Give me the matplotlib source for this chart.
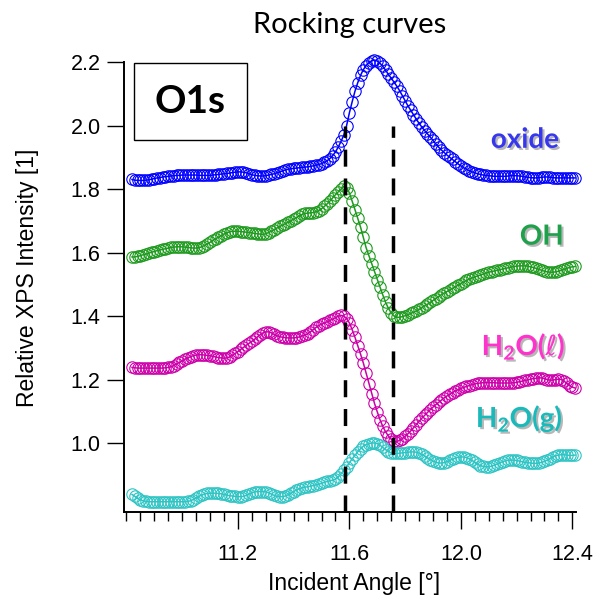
import numpy as np
import matplotlib
matplotlib.use("Agg")
import matplotlib.pyplot as plt
from matplotlib.patches import Rectangle
from matplotlib.ticker import MultipleLocator
import matplotlib.patheffects as pe

# Scan grid: incident angle in degrees, 0.01 deg steps
angle_start = 10.82
angle_step = 0.01

oxide = [
    1.830, 1.828, 1.827, 1.827, 1.827, 1.828, 1.829, 1.831, 1.833, 1.835,
    1.836, 1.838, 1.839, 1.840, 1.841, 1.842, 1.843, 1.843, 1.844, 1.844,
    1.844, 1.844, 1.844, 1.844, 1.843, 1.843, 1.843, 1.843, 1.843, 1.844,
    1.845, 1.846, 1.847, 1.848, 1.849, 1.850, 1.852, 1.853, 1.854, 1.854,
    1.853, 1.851, 1.848, 1.845, 1.843, 1.842, 1.841, 1.841, 1.842, 1.844,
    1.846, 1.848, 1.851, 1.854, 1.857, 1.860, 1.862, 1.864, 1.865, 1.866,
    1.867, 1.868, 1.869, 1.870, 1.871, 1.873, 1.875, 1.877, 1.880, 1.884,
    1.889, 1.896, 1.905, 1.917, 1.932, 1.950, 1.970, 2.000, 2.040, 2.075,
    2.108, 2.135, 2.158, 2.176, 2.189, 2.198, 2.204, 2.206, 2.203, 2.196,
    2.186, 2.174, 2.161, 2.149, 2.137, 2.124, 2.110, 2.094, 2.078, 2.062,
    2.048, 2.034, 2.020, 2.007, 1.995, 1.984, 1.974, 1.964, 1.953, 1.942,
    1.932, 1.923, 1.915, 1.907, 1.900, 1.893, 1.886, 1.879, 1.873, 1.867,
    1.862, 1.858, 1.854, 1.851, 1.848, 1.846, 1.844, 1.843, 1.842, 1.841,
    1.840, 1.840, 1.840, 1.840, 1.840, 1.841, 1.842, 1.842, 1.842, 1.841,
    1.840, 1.838, 1.837, 1.836, 1.835, 1.835, 1.836, 1.837, 1.838, 1.838,
    1.837, 1.836, 1.835, 1.835, 1.835, 1.835, 1.835, 1.835, 1.835, 1.835,
]

hydroxyl = [
    1.586, 1.586, 1.588, 1.590, 1.593, 1.595, 1.598, 1.601, 1.603, 1.606,
    1.608, 1.610, 1.612, 1.614, 1.616, 1.617, 1.618, 1.618, 1.618, 1.617,
    1.616, 1.615, 1.614, 1.614, 1.615, 1.618, 1.622, 1.627, 1.632, 1.638,
    1.643, 1.648, 1.653, 1.658, 1.662, 1.665, 1.667, 1.667, 1.667, 1.666,
    1.665, 1.664, 1.663, 1.662, 1.660, 1.659, 1.658, 1.657, 1.659, 1.663,
    1.667, 1.672, 1.677, 1.682, 1.686, 1.691, 1.695, 1.700, 1.705, 1.710,
    1.715, 1.720, 1.723, 1.724, 1.725, 1.726, 1.728, 1.732, 1.738, 1.745,
    1.753, 1.762, 1.772, 1.782, 1.791, 1.800, 1.808, 1.804, 1.788, 1.762,
    1.735, 1.708, 1.680, 1.648, 1.615, 1.590, 1.565, 1.540, 1.514, 1.490,
    1.466, 1.443, 1.424, 1.410, 1.400, 1.396, 1.396, 1.398, 1.401, 1.404,
    1.408, 1.412, 1.416, 1.421, 1.426, 1.432, 1.437, 1.443, 1.449, 1.455,
    1.461, 1.467, 1.472, 1.477, 1.482, 1.487, 1.492, 1.497, 1.502, 1.507,
    1.512, 1.516, 1.520, 1.523, 1.526, 1.529, 1.532, 1.535, 1.538, 1.540,
    1.542, 1.544, 1.546, 1.548, 1.550, 1.552, 1.554, 1.556, 1.557, 1.558,
    1.558, 1.558, 1.557, 1.555, 1.553, 1.550, 1.547, 1.544, 1.541, 1.539,
    1.538, 1.538, 1.539, 1.541, 1.544, 1.547, 1.550, 1.553, 1.555, 1.556,
]

water_liquid = [
    1.238, 1.237, 1.236, 1.236, 1.236, 1.236, 1.236, 1.236, 1.236, 1.236,
    1.236, 1.236, 1.237, 1.238, 1.240, 1.244, 1.249, 1.254, 1.259, 1.264,
    1.268, 1.272, 1.275, 1.277, 1.278, 1.278, 1.277, 1.276, 1.275, 1.273,
    1.271, 1.269, 1.268, 1.267, 1.268, 1.271, 1.276, 1.282, 1.288, 1.295,
    1.301, 1.308, 1.314, 1.320, 1.327, 1.334, 1.341, 1.347, 1.350, 1.350,
    1.347, 1.342, 1.338, 1.335, 1.333, 1.332, 1.331, 1.331, 1.331, 1.332,
    1.334, 1.337, 1.340, 1.344, 1.350, 1.357, 1.364, 1.370, 1.374, 1.378,
    1.382, 1.386, 1.390, 1.395, 1.399, 1.402, 1.400, 1.392, 1.378, 1.357,
    1.333, 1.307, 1.280, 1.252, 1.220, 1.187, 1.155, 1.125, 1.098, 1.073,
    1.052, 1.035, 1.022, 1.012, 1.006, 1.005, 1.008, 1.014, 1.021, 1.029,
    1.038, 1.048, 1.058, 1.068, 1.078, 1.087, 1.096, 1.105, 1.113, 1.121,
    1.128, 1.135, 1.142, 1.148, 1.154, 1.159, 1.164, 1.168, 1.172, 1.175,
    1.178, 1.181, 1.184, 1.186, 1.188, 1.189, 1.190, 1.190, 1.190, 1.190,
    1.190, 1.189, 1.189, 1.189, 1.189, 1.189, 1.189, 1.190, 1.191, 1.193,
    1.195, 1.197, 1.199, 1.201, 1.203, 1.204, 1.205, 1.205, 1.203, 1.200,
    1.198, 1.198, 1.200, 1.201, 1.200, 1.195, 1.188, 1.181, 1.176, 1.173,
]

water_gas = [
    0.838, 0.832, 0.826, 0.821, 0.818, 0.816, 0.815, 0.815, 0.815, 0.815,
    0.815, 0.815, 0.815, 0.815, 0.815, 0.815, 0.815, 0.815, 0.815, 0.815,
    0.816, 0.818, 0.822, 0.827, 0.832, 0.836, 0.839, 0.841, 0.842, 0.842,
    0.842, 0.841, 0.840, 0.838, 0.836, 0.834, 0.833, 0.832, 0.831, 0.831,
    0.832, 0.835, 0.839, 0.843, 0.846, 0.847, 0.847, 0.847, 0.846, 0.843,
    0.839, 0.835, 0.832, 0.831, 0.831, 0.833, 0.837, 0.842, 0.847, 0.852,
    0.856, 0.859, 0.861, 0.862, 0.864, 0.866, 0.868, 0.870, 0.873, 0.876,
    0.879, 0.881, 0.883, 0.886, 0.893, 0.903, 0.914, 0.925, 0.938, 0.950,
    0.961, 0.972, 0.982, 0.990, 0.995, 0.998, 1.000, 1.000, 0.998, 0.993,
    0.986, 0.979, 0.973, 0.969, 0.967, 0.967, 0.968, 0.969, 0.970, 0.971,
    0.972, 0.972, 0.971, 0.968, 0.964, 0.959, 0.953, 0.948, 0.943, 0.939,
    0.937, 0.937, 0.938, 0.941, 0.945, 0.949, 0.952, 0.955, 0.956, 0.956,
    0.954, 0.950, 0.945, 0.939, 0.933, 0.929, 0.926, 0.925, 0.925, 0.927,
    0.930, 0.934, 0.938, 0.941, 0.944, 0.946, 0.946, 0.946, 0.945, 0.943,
    0.941, 0.939, 0.938, 0.937, 0.936, 0.936, 0.937, 0.939, 0.942, 0.946,
    0.951, 0.956, 0.960, 0.962, 0.963, 0.963, 0.962, 0.961, 0.961, 0.962,
]

series_names = ["oxide", "OH", "H$_\\mathregular{2}$O($\\ell$)", "H$_\\mathregular{2}$O(g)"]
series_values = [oxide, hydroxyl, water_liquid, water_gas]
curve_colors = ["#0000FF", "#1E9A1E", "#CC00AA", "#2EC4C4"]
label_colors = ["#3737EE", "#1FA04A", "#FF33CC", "#1ABABA"]
label_positions = [(12.23, 1.955), (12.29, 1.650), (12.225, 1.305), (12.21, 1.078)]

marker_angles = [11.584, 11.757]
x_ticks = [11.2, 11.6, 12.0, 12.4]
y_ticks = [1.0, 1.2, 1.4, 1.6, 1.8, 2.0, 2.2]

fig = plt.figure(figsize=(5.97, 5.97), dpi=100)
ax = fig.add_axes([0.2085, 0.1424, 0.7563, 0.7537])

for vals, col in zip(series_values, curve_colors):
    vals = np.asarray(vals)
    ang = angle_start + angle_step * np.arange(len(vals))
    ax.plot(ang, vals, color=col, lw=1.1, marker="o", ms=8.2,
            mfc="none", mec=col, mew=0.8, clip_on=False, zorder=3)

for a in marker_angles:
    ax.plot([a, a], [0.7827, 2.0], color="black", lw=2.5,
            linestyle=(0, (4.9, 3.4)), solid_capstyle="butt",
            dash_capstyle="butt", clip_on=False, zorder=4)

for name, col, (lx, ly) in zip(series_names, label_colors, label_positions):
    ax.text(lx, ly, name, color=col, fontsize=20, fontweight="bold",
            family=["Lato", "DejaVu Sans"], ha="center", va="center",
            path_effects=[pe.withSimplePatchShadow(offset=(1.5, -1.5),
                                                   shadow_rgbFace="#888888",
                                                   alpha=0.6)],
            zorder=5)

# O1s core-level tag
ax.add_patch(Rectangle((0.021, 0.8267), 0.2497, 0.1713, transform=ax.transAxes,
                       fill=False, edgecolor="black", lw=1.0, clip_on=False))
ax.text(0.146, 0.912, "O1s", transform=ax.transAxes, fontsize=28,
        fontweight="bold", family="Lato", ha="center", va="center")

ax.set_xlim(10.793, 12.413)
ax.set_ylim(0.7827, 2.2)

for side in ("top", "right"):
    ax.spines[side].set_visible(False)
for side in ("left", "bottom"):
    ax.spines[side].set_linewidth(1.4)

ax.set_xticks(x_ticks)
ax.set_xticklabels([f"{t:.1f}" for t in x_ticks])
ax.xaxis.set_minor_locator(MultipleLocator(0.05))
ax.set_yticks(y_ticks)
ax.set_yticklabels([f"{t:.1f}" for t in y_ticks])

ax.tick_params(axis="x", which="major", direction="out", length=12.2, width=1.0, pad=11)
ax.tick_params(axis="x", which="minor", direction="out", length=6.5, width=1.0)
ax.tick_params(axis="y", which="major", direction="out", length=12.2, width=1.0, pad=5)
for lab in ax.get_xticklabels() + ax.get_yticklabels():
    lab.set_fontfamily("Liberation Sans")
    lab.set_fontsize(15.5)

ax.set_xlabel("Incident Angle [°]", fontfamily="Liberation Sans", fontsize=16.5)
ax.set_ylabel("Relative XPS Intensity [1]", fontfamily="Liberation Sans", fontsize=16.5)
ax.xaxis.set_label_coords(0.509, -0.133)
ax.yaxis.set_label_coords(-0.19, 0.52)

fig.text(350 / 597, 1 - 33 / 597, "Rocking curves", family="Lato",
         fontsize=21, ha="center", va="baseline")

fig.savefig("out.png", dpi=100)
